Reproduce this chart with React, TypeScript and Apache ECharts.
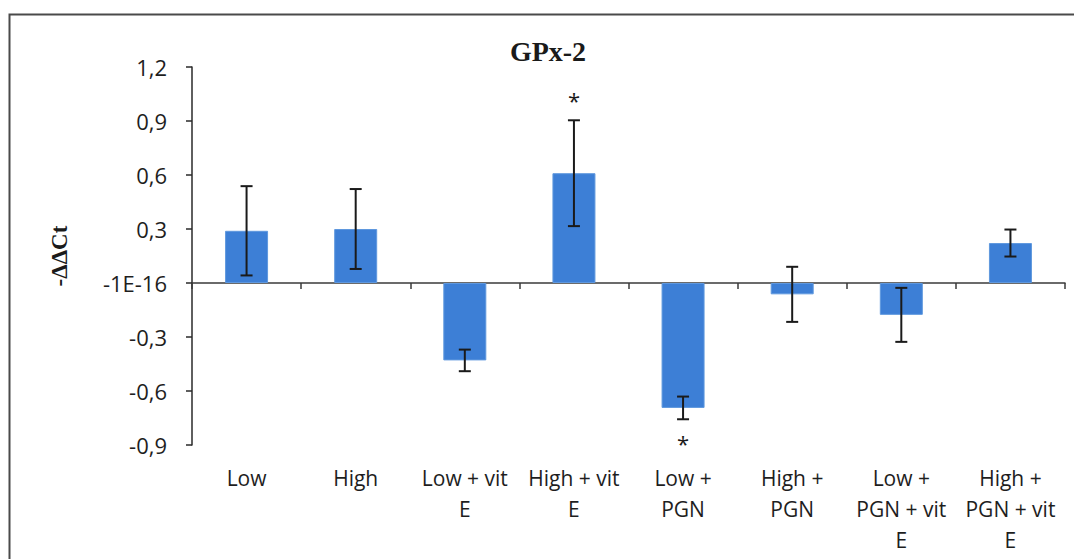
import React, { useEffect, useRef } from "react";
import * as echarts from "echarts";

const categories = [
  "Low",
  "High",
  "Low + vit\nE",
  "High + vit\nE",
  "Low +\nPGN",
  "High +\nPGN",
  "Low +\nPGN + vit\nE",
  "High +\nPGN + vit\nE",
];
const means = [0.29, 0.3, -0.43, 0.61, -0.694, -0.063, -0.177, 0.222];
const errors = [0.248, 0.222, 0.06, 0.294, 0.063, 0.153, 0.15, 0.075];
const significance = ["", "", "", "*", "*", "", "", ""];
const yTicks = { min: -0.9, max: 1.2, interval: 0.3 };
const titleText = "GPx-2";
const yName = "-ΔΔCt";

const SANS = '"Open Sans", "Noto Sans", sans-serif';
const SERIF = '"Liberation Serif", "DejaVu Serif", serif';

export default function App() {
  const ref = useRef<HTMLDivElement>(null);
  useEffect(() => {
    if (!ref.current) return;
    const chart = echarts.init(ref.current, undefined, { renderer: "svg" });
    const errData = means.map((m, i) => [i, m - errors[i], m + errors[i]]);
    const sigData = means.map((m, i) => [i, m - errors[i], m + errors[i], m]);

    chart.setOption({
      animation: false,
      backgroundColor: "#ffffff",
      grid: { left: 192, right: 9, top: 67, bottom: 114, containLabel: false },
      graphic: [
        {
          type: "rect",
          shape: { x: 9.5, y: 14.5, width: 1200, height: 700 },
          style: { fill: "none", stroke: "#4a4a4a", lineWidth: 2 },
          silent: true,
        },
        {
          type: "text",
          x: 548,
          y: 51,
          style: {
            text: titleText,
            font: `bold 28px ${SERIF}`,
            fill: "#1a1a1a",
            align: "center",
            verticalAlign: "middle",
          },
        },
      ],
      xAxis: [
        {
          type: "category",
          data: categories,
          position: "bottom",
          axisLine: { show: false, onZero: false },
          axisTick: { show: false },
          splitLine: { show: false },
          axisLabel: {
            show: true,
            interval: 0,
            margin: 17,
            fontFamily: SANS,
            fontSize: 21,
            lineHeight: 31,
            color: "#1e1e1e",
          },
        },
        {
          type: "category",
          data: categories,
          position: "bottom",
          axisLine: { show: true, onZero: true, lineStyle: { color: "#3a3a3a", width: 1.5 } },
          axisTick: { show: true, length: 6, inside: false, lineStyle: { color: "#3a3a3a", width: 1.5 } },
          axisLabel: { show: false },
          splitLine: { show: false },
        },
      ],
      yAxis: {
        type: "value",
        min: yTicks.min,
        max: yTicks.max,
        interval: yTicks.interval,
        name: yName,
        nameLocation: "middle",
        nameGap: 121,
        nameRotate: 90,
        nameTextStyle: { fontFamily: SERIF, fontWeight: "bold", fontSize: 23, color: "#1a1a1a" },
        axisLine: { show: true, lineStyle: { color: "#2a2a2a", width: 1.5 } },
        axisTick: { show: true, length: 6, lineStyle: { color: "#2a2a2a", width: 1.5 } },
        splitLine: { show: false },
        axisLabel: {
          margin: 25,
          fontFamily: SANS,
          fontSize: 22,
          color: "#1e1e1e",
          formatter: (v: number) =>
            Math.abs(v) < 1e-9 ? "-1E-16" : v.toFixed(1).replace(".", ","),
        },
      },
      series: [
        {
          type: "bar",
          xAxisIndex: 0,
          data: means,
          barWidth: 43,
          itemStyle: { color: "#3d7fd6", borderColor: "#5f98de", borderWidth: 1 },
          z: 2,
        },
        {
          type: "custom",
          xAxisIndex: 0,
          data: errData,
          z: 5,
          renderItem: (params: any, api: any) => {
            const x = api.value(0);
            const lo = api.coord([x, api.value(1)]);
            const hi = api.coord([x, api.value(2)]);
            const half = 6;
            const st = { stroke: "#1a1a1a", lineWidth: 2 };
            return {
              type: "group",
              children: [
                { type: "line", shape: { x1: hi[0], y1: hi[1], x2: lo[0], y2: lo[1] }, style: st },
                { type: "line", shape: { x1: hi[0] - half, y1: hi[1], x2: hi[0] + half, y2: hi[1] }, style: st },
                { type: "line", shape: { x1: lo[0] - half, y1: lo[1], x2: lo[0] + half, y2: lo[1] }, style: st },
              ],
            };
          },
        },
        {
          type: "custom",
          xAxisIndex: 0,
          data: sigData,
          z: 6,
          renderItem: (params: any, api: any) => {
            const i = params.dataIndex;
            const mark = significance[i];
            if (!mark) return null;
            const x = api.value(0);
            const m = api.value(3);
            const p = m >= 0 ? api.coord([x, api.value(2)]) : api.coord([x, api.value(1)]);
            const y = m >= 0 ? p[1] - 20 : p[1] + 24;
            return {
              type: "text",
              x: p[0],
              y,
              style: {
                text: mark,
                font: `22px ${SANS}`,
                fill: "#1a1a1a",
                align: "center",
                verticalAlign: "middle",
              },
            };
          },
        },
      ],
    });
    return () => chart.dispose();
  }, []);
  return (
    <div
      ref={ref}
      style={{ position: "absolute", left: 0, top: 0, width: 1074, height: 559 }}
    />
  );
}
